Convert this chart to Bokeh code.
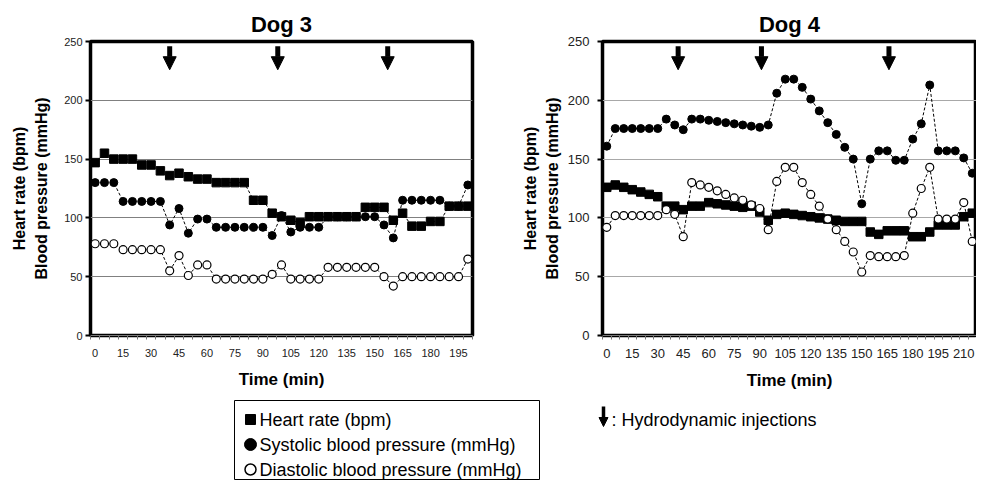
from bokeh.plotting import figure
from bokeh.models import Range1d, FixedTicker, Arrow, NormalHead, ColumnDataSource, Title
from bokeh.layouts import column, row
from bokeh.embed import file_html
from bokeh.resources import INLINE
from bokeh.core.properties import value

FONT = "Liberation Sans"

# ---------------- data ----------------
time3 = [0, 5, 10, 15, 20, 25, 30, 35, 40, 45, 50, 55, 60, 65, 70, 75, 80, 85, 90, 95,
         100, 105, 110, 115, 120, 125, 130, 135, 140, 145, 150, 155, 160, 165, 170, 175,
         180, 185, 190, 195, 200]
hr3 = [147, 155, 150, 150, 150, 145, 145, 140, 136, 138, 135, 133, 133, 130, 130, 130, 130,
       115, 115, 104, 101, 98, 96, 101, 101, 101, 101, 101, 101, 109, 109, 109, 98, 104,
       93, 93, 97, 97, 110, 110, 110]
sys3 = [130, 130, 130, 114, 114, 114, 114, 114, 94, 108, 87, 99, 99, 92, 92, 92, 92, 92, 92,
        85, 102, 88, 92, 92, 92, 101, 101, 101, 101, 101, 101, 94, 83, 115, 115, 115, 115,
        115, 110, 110, 128]
dia3 = [78, 78, 78, 73, 73, 73, 73, 73, 55, 68, 51, 60, 60, 48, 48, 48, 48, 48, 48, 52, 60,
        48, 48, 48, 48, 58, 58, 58, 58, 58, 58, 50, 42, 50, 50, 50, 50, 50, 50, 50, 65]
inj3 = [40, 98, 157]
ticks3 = [0, 15, 30, 45, 60, 75, 90, 105, 120, 135, 150, 165, 180, 195]

time4 = [0, 5, 10, 15, 20, 25, 30, 35, 40, 45, 50, 55, 60, 65, 70, 75, 80, 85, 90, 95,
         100, 105, 110, 115, 120, 125, 130, 135, 140, 145, 150, 155, 160, 165, 170, 175,
         180, 185, 190, 195, 200, 205, 210, 215]
hr4 = [126, 128, 126, 124, 122, 120, 118, 110, 110, 107, 110, 110, 113, 112, 111, 110, 109,
       110, 105, 98, 103, 104, 103, 102, 101, 100, 99, 98, 97, 97, 97, 88, 86, 89, 89, 89,
       84, 84, 88, 94, 94, 94, 101, 104]
sys4 = [161, 176, 176, 176, 176, 176, 176, 184, 179, 175, 184, 184, 183, 182, 181, 180, 179,
        178, 177, 179, 206, 218, 218, 211, 201, 191, 181, 171, 160, 150, 112, 150, 157, 157,
        149, 149, 167, 180, 213, 157, 157, 157, 151, 138]
dia4 = [92, 102, 102, 102, 102, 102, 102, 107, 103, 84, 130, 128, 126, 123, 120, 117, 115,
        111, 108, 90, 131, 143, 143, 130, 120, 110, 99, 90, 80, 71, 54, 68, 67, 67, 67, 68,
        104, 125, 143, 99, 99, 99, 113, 80]
inj4 = [42, 91, 166]
ticks4 = [0, 15, 30, 45, 60, 75, 90, 105, 120, 135, 150, 165, 180, 195, 210]

yticks = [0, 50, 100, 150, 200, 250]
ygrid = [50, 100, 150, 200]
legend_labels = ["Heart rate (bpm)", "Systolic blood pressure (mmHg)",
                 "Diastolic blood pressure (mmHg)"]
inj_label = ": Hydrodynamic injections"
ylabel = "Heart rate (bpm)\nBlood pressure (mmHg)"
xlabel = "Time (min)"


def panel(title, t, hr, sp, dp, inj, ticks, width, left, right, tick_px, grid_color,
          lab_standoff, tick_standoff):
    step = t[1] - t[0]
    p = figure(width=width, height=395,
               x_range=Range1d(t[0] - step / 2, t[-1] + step / 2),
               y_range=Range1d(0, 250),
               output_backend="svg", toolbar_location=None,
               min_border_left=left, min_border_right=right,
               min_border_top=41, min_border_bottom=60)
    p.title.text = title
    p.title.align = "center"
    p.title.text_font = FONT
    p.title.text_font_size = "22px"
    p.title.text_font_style = "bold"
    p.title.text_color = "black"
    p.title.standoff = 10
    p.outline_line_color = "black"
    p.outline_line_width = 3.5
    p.background_fill_color = "white"
    p.border_fill_color = "white"

    p.xgrid.visible = False
    p.ygrid.ticker = FixedTicker(ticks=ygrid)
    p.ygrid.grid_line_color = grid_color
    p.ygrid.grid_line_width = 1.2

    minors = [x - step / 2 for x in t] + [t[-1] + step / 2]
    xa = p.xaxis[0]
    xa.ticker = FixedTicker(ticks=ticks, minor_ticks=minors)
    xa.major_tick_out = 0
    xa.major_tick_in = 0
    xa.minor_tick_out = 4
    xa.minor_tick_in = 0
    xa.minor_tick_line_color = "#777777"
    xa.axis_line_color = "#777777"
    xa.major_label_standoff = 9
    xa.major_label_text_font = FONT
    xa.major_label_text_font_size = tick_px
    xa.major_label_text_color = "#222222"
    xa.axis_label = xlabel
    xa.axis_label_text_font = FONT
    xa.axis_label_text_font_size = "17px"
    xa.axis_label_text_font_style = "bold"
    xa.axis_label_text_color = "black"
    xa.axis_label_standoff = 10

    ya = p.yaxis[0]
    ya.ticker = FixedTicker(ticks=yticks)
    ya.axis_line_color = None
    ya.major_tick_out = 5
    ya.major_tick_in = 0
    ya.major_tick_line_width = 2
    ya.major_tick_line_color = "black"
    ya.minor_tick_line_color = None
    ya.major_label_standoff = tick_standoff
    ya.major_label_text_font = FONT
    ya.major_label_text_font_size = tick_px
    ya.major_label_text_color = "#222222"
    ya.axis_label = ylabel
    ya.axis_label_text_font = FONT
    ya.axis_label_text_font_size = "16px"
    ya.axis_label_text_font_style = "bold"
    ya.axis_label_text_color = "black"
    ya.axis_label_text_line_height = 1.3
    ya.axis_label_standoff = lab_standoff

    # thin empty spacer on the far left, so that the axis title sits a bit inward
    p.add_layout(Title(text=" ", text_font_size="5px", standoff=0), "left")

    dash = "3 2"
    p.line(t, hr, line_color="black", line_width=1, line_dash=dash)
    p.line(t, sp, line_color="black", line_width=1, line_dash=dash)
    p.line(t, dp, line_color="black", line_width=1, line_dash=dash)
    p.scatter(t, hr, marker="square", size=8.5, fill_color="black", line_color="black")
    p.scatter(t, sp, marker="circle", size=8, fill_color="black", line_color="black")
    p.scatter(t, dp, marker="circle", size=8, fill_color="white", line_color="black",
              line_width=1.2)

    src = ColumnDataSource(dict(x=inj, y0=[246] * len(inj), y1=[226] * len(inj)))
    p.add_layout(Arrow(end=NormalHead(size=13, fill_color="black", line_color="black",
                                      line_width=1),
                       x_start="x", y_start="y0", x_end="x", y_end="y1", source=src,
                       line_width=5, line_color="black"))
    return p


p1 = panel("Dog 3", time3, hr3, sys3, dia3, inj3, ticks3, 510, 82, 38, "11px", "#808080",
           11, 3)
p2 = panel("Dog 4", time4, hr4, sys4, dia4, inj4, ticks4, 466, 83, 0, "13px", "#a8a8a8",
           4, 8)

# ---------------- legend strip ----------------
p3 = figure(width=976, height=85, x_range=Range1d(0, 976), y_range=Range1d(85, 0),
            output_backend="svg", toolbar_location=None,
            min_border_left=0, min_border_right=0, min_border_top=0, min_border_bottom=0)
p3.axis.visible = False
p3.grid.visible = False
p3.outline_line_color = None

p3.quad(left=[234], right=[539], top=[5], bottom=[84], fill_color=None,
        line_color="black", line_width=1)
ly = [24, 49, 74]
p3.scatter([250], [ly[0]], marker="square", size=10, fill_color="black", line_color="black")
p3.scatter([250], [ly[1]], marker="circle", size=12, fill_color="black", line_color="black")
p3.scatter([250], [ly[2]], marker="circle", size=11, fill_color="white", line_color="black",
           line_width=1.5)
p3.text(x=[259] * 3, y=ly, text=legend_labels, text_font=value(FONT), text_font_size="18px",
        text_baseline="middle", text_align="left", text_color="black")

p3.add_layout(Arrow(end=NormalHead(size=9, fill_color="black", line_color="black"),
                    x_start=603, y_start=11, x_end=603, y_end=31, line_width=3.5,
                    line_color="black"))
p3.text(x=[611], y=[ly[0]], text=[inj_label], text_font=value(FONT), text_font_size="18px",
        text_baseline="middle", text_align="left", text_color="black")

layout = column(row(p1, p2, spacing=0), p3, spacing=0)

open("out.html", "w").write(file_html(layout, INLINE))
